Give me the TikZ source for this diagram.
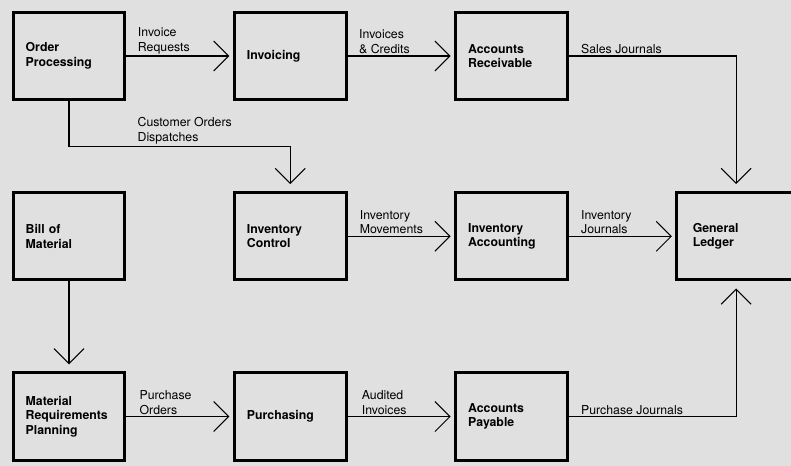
\documentclass[tikz,border=0pt]{standalone}
\usepackage{fontspec}
\setmainfont{TeX Gyre Heros}
\usetikzlibrary{arrows.meta, positioning}
\definecolor{paper}{gray}{0.88}

\begin{document}
\begin{tikzpicture}[
    node distance=2.7cm and 3.2cm,
    box/.style={draw, line width=2.5pt, minimum width=3.35cm,
                minimum height=2.62cm, text width=2.6cm, align=left,
                inner sep=0pt, font=\bfseries\fontsize{10.5}{12.5}\selectfont},
    lbl/.style={anchor=south west, align=left, inner sep=1.5pt,
                font=\fontsize{10.5}{12.5}\selectfont},
    arr/.style={-{Straight Barb[length=0.45cm, width=0.9cm]},
                line width=0.9pt, shorten >=3pt},
    varr/.style={arr, shorten >=6pt}
  ]
  \clip (0,0) rectangle (23.73,-13.98);
  \fill[paper] (0,0) rectangle (23.73,-13.98);
  % top row
  \node[box] (order) at (2.07,-1.68) {Order\\Processing};
  \node[box, right=of order] (invoicing) {Invoicing};
  \node[box, right=of invoicing] (receiv) {Accounts\\Receivable};
  % middle row
  \node[box, below=of order] (bom) {Bill of\\Material};
  \node[box, below=of invoicing] (invctl) {Inventory\\Control};
  \node[box, below=of receiv] (invacc) {Inventory\\Accounting};
  \node[box, right=of invacc, minimum width=3.55cm] (ledger) {General\\Ledger};
  % bottom row
  \node[box, below=of bom] (mrp) {Material\\Requirements\\Planning};
  \node[box, below=of invctl] (purch) {Purchasing};
  \node[box, below=of invacc] (payable) {Accounts\\Payable};
  % flows
  \draw[arr] (order) -- (invoicing)
        node[lbl, at start, xshift=0.28cm] {Invoice\\Requests};
  \draw[arr] (invoicing) -- (receiv)
        node[lbl, at start, xshift=0.28cm] {Invoices\\\& Credits};
  \draw[varr] (receiv) -| (ledger)
        node[lbl, pos=0, xshift=0.3cm] {Sales Journals};
  \draw[varr] (order.south) -- ++(0,-1.35)
        node[lbl, xshift=1.99cm] {Customer Orders\\Dispatches} -| (invctl);
  \draw[arr] (invctl) -- (invacc)
        node[lbl, at start, xshift=0.3cm] {Inventory\\Movements};
  \draw[arr] (invacc) -- (ledger)
        node[lbl, at start, xshift=0.3cm] {Inventory\\Journals};
  \draw[varr] (bom) -- (mrp);
  \draw[arr] (mrp) -- (purch)
        node[lbl, at start, xshift=0.33cm] {Purchase\\Orders};
  \draw[arr] (purch) -- (payable)
        node[lbl, at start, xshift=0.36cm] {Audited\\Invoices};
  \draw[varr] (payable) -| (ledger)
        node[lbl, pos=0, xshift=0.3cm] {Purchase Journals};
\end{tikzpicture}
\end{document}
